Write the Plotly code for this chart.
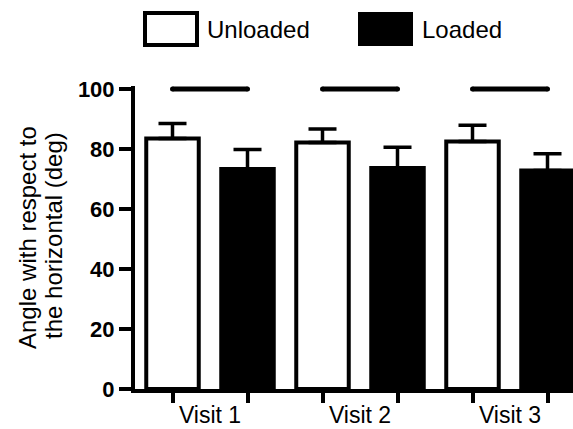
import plotly.graph_objects as go

visits = ["Visit 1", "Visit 2", "Visit 3"]
unloaded_mean = [83.5, 82.2, 82.5]
unloaded_top = [88.5, 86.7, 87.9]
loaded_mean = [73.3, 73.7, 72.8]
loaded_top = [79.8, 80.6, 78.4]
sig_y = [100, 100, 100]
y_ticks = [0, 20, 40, 60, 80, 100]

group_x = list(range(len(visits)))
off = 0.25
bw = 0.35
ux = [g - off for g in group_x]
lx = [g + off for g in group_x]

FONT = "Liberation Sans, Arial, sans-serif"

fig = go.Figure()
fig.add_trace(go.Bar(
    x=ux, y=unloaded_mean, width=bw, name="Unloaded",
    marker=dict(color="white", line=dict(color="black", width=4)),
    error_y=dict(type="data", symmetric=False,
                 array=[t - m for t, m in zip(unloaded_top, unloaded_mean)],
                 arrayminus=[0] * 3, color="black", thickness=3.5, width=14),
    showlegend=False))
fig.add_trace(go.Bar(
    x=lx, y=loaded_mean, width=bw, name="Loaded",
    marker=dict(color="black", line=dict(color="black", width=4)),
    error_y=dict(type="data", symmetric=False,
                 array=[t - m for t, m in zip(loaded_top, loaded_mean)],
                 arrayminus=[0] * 3, color="black", thickness=3.5, width=14),
    showlegend=False))

for g, s in zip(group_x, sig_y):
    fig.add_trace(go.Scatter(
        x=[g - off, g + off], y=[s, s], mode="lines+markers",
        line=dict(color="black", width=5),
        marker=dict(color="black", size=5, symbol="circle"),
        cliponaxis=False, showlegend=False, hoverinfo="skip"))

W, H = 573, 429
ml, mr, mt, mb = 135, 0, 86, 40
pw, ph = W - ml - mr, H - mt - mb

def px2x(p):
    return (p - ml) / pw

def py2y(p):
    return (H - mb - p) / ph

shapes = [
    dict(type="rect", xref="paper", yref="paper",
         x0=px2x(145), x1=px2x(197), y0=py2y(45), y1=py2y(13),
         line=dict(color="black", width=4), fillcolor="white"),
    dict(type="rect", xref="paper", yref="paper",
         x0=px2x(359), x1=px2x(412), y0=py2y(45), y1=py2y(13),
         line=dict(color="black", width=2), fillcolor="black"),
]
annotations = [
    dict(text="Unloaded", xref="paper", yref="paper", x=px2x(205), y=py2y(30),
         xanchor="left", yanchor="middle", showarrow=False,
         font=dict(family=FONT, size=24, color="black")),
    dict(text="Loaded", xref="paper", yref="paper", x=px2x(420), y=py2y(30),
         xanchor="left", yanchor="middle", showarrow=False,
         font=dict(family=FONT, size=24, color="black")),
    dict(text="Angle with respect to", xref="paper", yref="paper",
         x=px2x(27), y=py2y(238), xanchor="center", yanchor="middle",
         textangle=-90, showarrow=False,
         font=dict(family=FONT, size=24, color="black")),
    dict(text="the horizontal (deg)", xref="paper", yref="paper",
         x=px2x(53), y=py2y(236), xanchor="center", yanchor="middle",
         textangle=-90, showarrow=False,
         font=dict(family=FONT, size=24, color="black")),
]

fig.update_layout(
    width=W, height=H,
    margin=dict(l=ml, r=mr, t=mt, b=mb, pad=0),
    paper_bgcolor="white", plot_bgcolor="white",
    barmode="overlay",
    shapes=shapes, annotations=annotations,
    xaxis=dict(range=[-0.5, 2.42], tickvals=group_x, ticktext=visits,
               ticks="", showline=True, linecolor="black", linewidth=4,
               showgrid=False, zeroline=False,
               tickfont=dict(family=FONT, size=23, color="black"),
               ticklabelstandoff=2,
               minor=dict(tickvals=ux + lx, ticks="outside", ticklen=10,
                          tickwidth=3.5, tickcolor="black", showgrid=False)),
    yaxis=dict(range=[0, 101], tickvals=y_ticks, ticks="outside", ticklen=12,
               tickwidth=4, tickcolor="black", showline=True,
               linecolor="black", linewidth=4, showgrid=False, zeroline=False,
               tickfont=dict(family=FONT, size=22, color="black", weight="bold"),
               ticklabelstandoff=0),
)

fig.write_html("out.html", config={"displayModeBar": False},
               post_script="document.body.style.margin='0';")
